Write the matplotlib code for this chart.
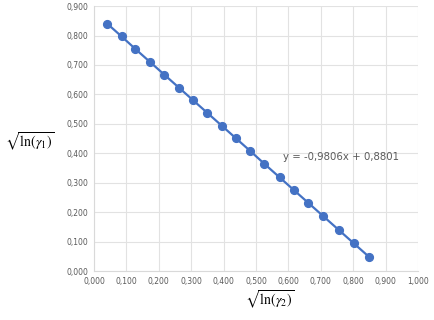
import matplotlib
matplotlib.use("Agg")
import matplotlib.pyplot as plt
from matplotlib.ticker import FuncFormatter, MultipleLocator

# data
x_vals = [0.041, 0.085, 0.128, 0.172, 0.217, 0.262, 0.305, 0.349, 0.394, 0.438,
          0.483, 0.526, 0.573, 0.618, 0.662, 0.708, 0.755, 0.802, 0.850]
y_vals = [0.840, 0.797, 0.754, 0.711, 0.667, 0.623, 0.581, 0.538, 0.494, 0.451,
          0.407, 0.364, 0.318, 0.274, 0.231, 0.186, 0.140, 0.094, 0.047]
fit_text = "y = -0,9806x + 0,8801"

plt.rcParams["mathtext.fontset"] = "stix"

fig = plt.figure(figsize=(4.34, 3.2), dpi=100)
ax = fig.add_axes([0.2166, 0.153, 0.7465, 0.828])

ax.plot(x_vals, y_vals, color="#4472C4", lw=1.6, marker="o", ms=5.6, zorder=3)

ax.set_xlim(0, 1.0)
ax.set_ylim(0, 0.9)
ax.xaxis.set_major_locator(MultipleLocator(0.1))
ax.yaxis.set_major_locator(MultipleLocator(0.1))
fmt = FuncFormatter(lambda v, p: f"{v:.3f}".replace(".", ","))
ax.xaxis.set_major_formatter(fmt)
ax.yaxis.set_major_formatter(fmt)
ax.tick_params(length=0, labelsize=5.5, labelcolor="#595959", pad=4)
ax.grid(True, color="#e2e2e2", lw=0.8)
ax.set_axisbelow(True)
for side in ["top", "right"]:
    ax.spines[side].set_visible(False)
for side in ["left", "bottom"]:
    ax.spines[side].set_color("#d9d9d9")
    ax.spines[side].set_linewidth(0.8)

ax.text(0.583, 0.387, fit_text, fontsize=7.3, color="#595959", va="center")

fig.text(0.012, 0.555, r"$\sqrt{\mathrm{ln}(\gamma_1)}$", fontsize=10, va="center", ha="left")
fig.text(0.622, 0.063, r"$\sqrt{\mathrm{ln}(\gamma_2)}$", fontsize=10, va="center", ha="center")

fig.savefig("out.png", dpi=100)
